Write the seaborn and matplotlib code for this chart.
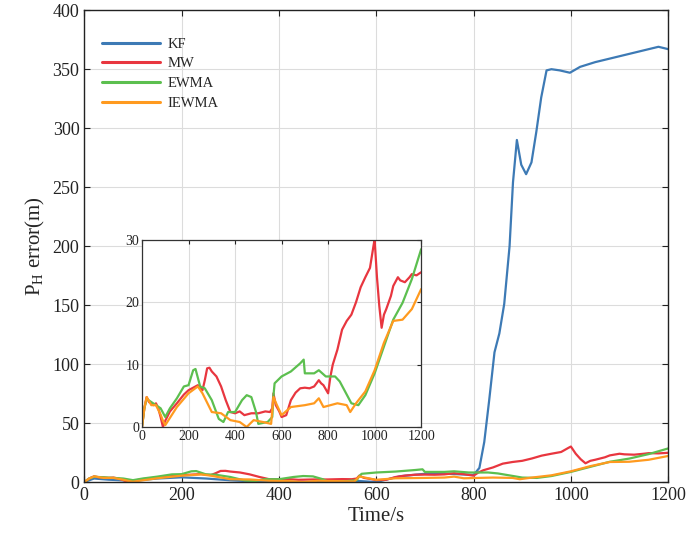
import matplotlib
matplotlib.use("Agg")
import matplotlib.pyplot as plt
import seaborn as sns
import pandas as pd

# ---------------- data ----------------
series_names = ["KF", "MW", "EWMA", "IEWMA"]
series_colors = ["#3d7ab5", "#e8363f", "#5cbf4f", "#ff9a1f"]

kf_t = [0, 20, 50, 100, 150, 200, 250, 300, 350, 400, 500, 560, 600, 650, 700, 750,
        800, 812, 822, 832, 843, 853, 863, 874, 881, 889, 898, 908, 919, 929, 939,
        950, 960, 977, 998, 1019, 1050, 1100, 1150, 1180, 1200]
kf_v = [0, 3, 2, 1, 3, 4, 3, 1.5, 0.5, 0, 0, 1, 0, 5, 7, 7,
        6, 12, 34, 69, 110, 126, 151, 200, 254, 290, 269, 261, 271, 297, 326,
        349, 350, 349, 347, 352, 356, 361, 366, 369, 367]

mw_t = [0, 10, 20, 30, 40, 50, 60, 70, 80, 90, 100, 120, 150, 180, 200, 220, 240, 260,
        270, 280, 290, 300, 320, 340, 360, 380, 400, 420, 440, 470, 500, 530, 550, 560,
        565, 575, 590, 600, 620, 640, 660, 680, 700, 720, 740, 760, 770, 780, 800, 810,
        820, 840, 860, 880, 900, 920, 940, 960, 980, 995, 1000, 1010, 1020, 1030, 1040,
        1050, 1070, 1080, 1100, 1110, 1130, 1150, 1160, 1180, 1200]
mw_v = [0, 3, 4.8, 4, 3.8, 3.5, 3.8, 3, 1.6, 0, 1, 2.5, 3.8, 5.2, 5.9, 6.3, 6.7, 5.9,
        7.5, 9.4, 9.5, 8.9, 8.1, 6.5, 4.3, 2.4, 2.2, 2.5, 1.9, 2.2, 2.2, 2.5, 2.4, 3,
        5.4, 3.5, 2.5, 1.6, 1.9, 4.3, 5.5, 6.2, 6.3, 6.2, 6.5, 7.5, 7, 6.7, 5.4, 8.1,
        10, 12.4, 15.6, 17, 18, 20, 22.4, 24, 25.5, 29, 30.1, 24, 19.4, 15.9, 18,
        18.9, 21, 22.6, 24, 23.5, 23.2, 24, 24.5, 24.3, 24.8]

ewma_t = [0, 10, 20, 40, 60, 80, 100, 120, 150, 180, 200, 220, 230, 250, 270, 300, 330,
          350, 370, 400, 430, 450, 470, 490, 500, 540, 560, 565, 570, 600, 640, 680, 695,
          700, 740, 760, 790, 830, 850, 870, 900, 930, 960, 1000, 1040, 1080, 1120, 1160,
          1200]
ewma_v = [0, 3, 4.5, 4, 3.5, 3, 1.6, 3, 4.6, 6.5, 6.7, 9.1, 9.3, 6.5, 6.2, 4.3, 1.3,
          0.8, 2.4, 2.4, 4.3, 5.1, 4.8, 2.4, 0.5, 0.8, 1.6, 5, 7, 8.1, 8.9, 10.2, 10.8,
          8.6, 8.6, 9.1, 8.1, 8.1, 7.3, 5.9, 3.8, 3.5, 5.1, 8.6, 12.9, 17.2, 19.9, 23.7,
          28.5]

iewma_t = [0, 10, 20, 40, 60, 80, 90, 100, 150, 200, 240, 260, 300, 340, 380, 420, 450,
           480, 520, 555, 565, 580, 600, 640, 700, 740, 760, 780, 840, 880, 895, 920, 960,
           1000, 1040, 1080, 1120, 1160, 1200]
iewma_v = [0, 3, 4.8, 3.5, 3.5, 2, 1, 0.3, 3.2, 5.4, 6.5, 5.4, 2.4, 2.2, 1.1, 0.8, 0,
           1.1, 0.8, 0.5, 4.8, 3.5, 1.9, 3.2, 3.5, 3.8, 4.6, 3.2, 3.8, 3.5, 2.4, 3.8, 5.7,
           9.1, 13.5, 17, 17.2, 18.9, 22.1]

main_xticks = [0, 200, 400, 600, 800, 1000, 1200]
main_yticks = [0, 50, 100, 150, 200, 250, 300, 350, 400]
inset_xticks = [0, 200, 400, 600, 800, 1000, 1200]
inset_yticks = [0, 10, 20, 30]

# ---------------- style ----------------
sns.set_style("whitegrid", {"grid.color": "#dcdcdc", "axes.edgecolor": "#222222",
                            "xtick.direction": "in", "ytick.direction": "in"})
plt.rcParams["font.family"] = ["Liberation Serif", "DejaVu Serif"]
plt.rcParams["mathtext.fontset"] = "custom"
plt.rcParams["mathtext.rm"] = "Liberation Serif"

frames = []
for name, t, v in [("KF", kf_t, kf_v), ("MW", mw_t, mw_v),
                   ("EWMA", ewma_t, ewma_v), ("IEWMA", iewma_t, iewma_v)]:
    frames.append(pd.DataFrame({"t": t, "v": v, "s": name}))
df = pd.concat(frames, ignore_index=True)
palette = dict(zip(series_names, series_colors))

fig = plt.figure(figsize=(6.91, 5.38), dpi=100)
ax = fig.add_axes([0.122, 0.104, 0.845, 0.877])

sns.lineplot(data=df, x="t", y="v", hue="s", hue_order=series_names, palette=palette,
             estimator=None, sort=False, linewidth=1.6, ax=ax)
ax.set_xlim(0, 1200)
ax.set_ylim(0, 400)
ax.set_xticks(main_xticks)
ax.set_yticks(main_yticks)
ax.tick_params(axis="both", labelsize=13, direction="in", length=4, width=0.8,
               top=True, right=True, bottom=True, left=True, colors="#222222")
ax.set_xlabel("Time/s", fontsize=15, labelpad=2)
ax.set_ylabel(r"$\mathregular{P_H}$ error(m)", fontsize=15, labelpad=4)
for sp in ax.spines.values():
    sp.set_linewidth(1.0)
    sp.set_color("#222222")

leg = ax.legend(loc="upper left", bbox_to_anchor=(0.008, 0.97), frameon=False,
                fontsize=10.5, handlelength=4.0, handletextpad=0.5,
                labelspacing=0.45)
for line in leg.get_lines():
    line.set_linewidth(2.2)

# ---------------- inset ----------------
axi = fig.add_axes([0.2055, 0.2063, 0.404, 0.348])
sub = df[df["s"] != "KF"]
sns.lineplot(data=sub, x="t", y="v", hue="s", hue_order=series_names[1:],
             palette=palette, estimator=None, sort=False, linewidth=1.6, ax=axi,
             legend=False)
axi.set_xlim(0, 1200)
axi.set_ylim(0, 30)
axi.set_xticks(inset_xticks)
axi.set_yticks(inset_yticks)
axi.set_xlabel("")
axi.set_ylabel("")
axi.tick_params(axis="both", labelsize=10, direction="in", length=3, width=0.8,
                top=True, right=True, pad=2, colors="#222222")
for sp in axi.spines.values():
    sp.set_linewidth(0.9)
    sp.set_color("#333333")

fig.savefig("out.png", dpi=100)
